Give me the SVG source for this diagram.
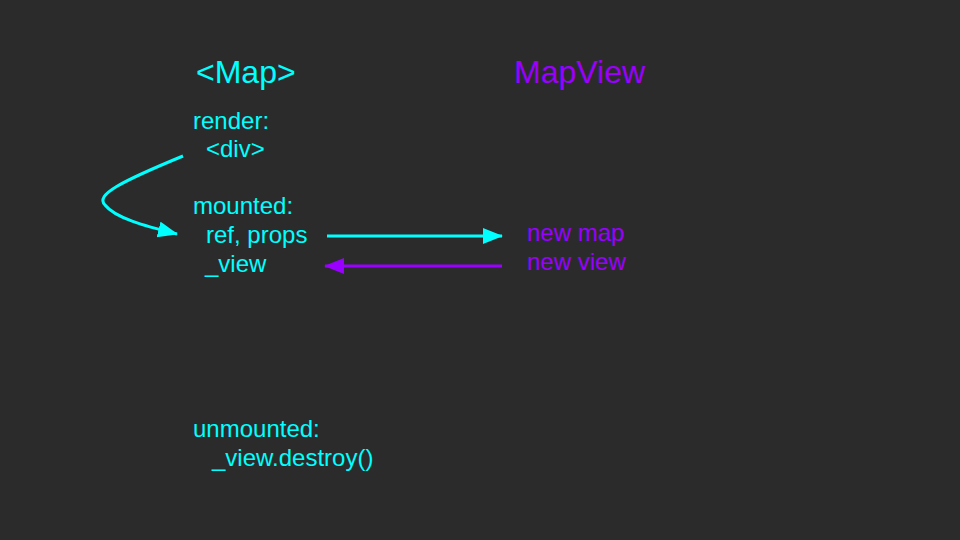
<svg xmlns="http://www.w3.org/2000/svg" width="960" height="540" viewBox="0 0 960 540">
  <style>
    text { font-family: "Liberation Sans", Arial, sans-serif; }
    .c { fill: #00ffff; }
    .p { fill: #9900ff; }
    .h { font-size: 32px; }
    .t { font-size: 24px; }
  </style>
  <defs>
    <marker id="ac" markerUnits="userSpaceOnUse" markerWidth="22" markerHeight="18" refX="19" refY="8" orient="auto">
      <path d="M0,0 L20,8 L0,16 Z" fill="#00ffff"/>
    </marker>
    <marker id="ap" markerUnits="userSpaceOnUse" markerWidth="22" markerHeight="18" refX="19" refY="8" orient="auto">
      <path d="M0,0 L20,8 L0,16 Z" fill="#9900ff"/>
    </marker>
  </defs>
  <rect width="960" height="540" fill="#2b2b2b"/>
  <g id="map">
    <text class="c h" x="196" y="83">&lt;Map&gt;</text>
    <text class="c t" x="193" y="129">render:</text>
    <text class="c t" x="206" y="157">&lt;div&gt;</text>
    <text class="c t" x="193" y="214">mounted:</text>
    <text class="c t" x="206" y="243">ref, props</text>
    <text class="c t" x="205" y="272">_view</text>
    <text class="c t" x="193" y="437">unmounted:</text>
    <text class="c t" x="212" y="466">_view.destroy()</text>
  </g>
  <g id="mapview">
    <text class="p h" x="514" y="83">MapView</text>
    <text class="p t" x="527" y="241">new map</text>
    <text class="p t" x="527" y="270">new view</text>
  </g>
  <g id="connectors" fill="none" stroke-width="3">
    <path d="M183,156 C120,182 95,195 105,205 C115,218 145,226 177,234" stroke="#00ffff" marker-end="url(#ac)"/>
    <line x1="327" y1="236" x2="502" y2="236" stroke="#00ffff" marker-end="url(#ac)"/>
    <line x1="502" y1="266" x2="325" y2="266" stroke="#9900ff" marker-end="url(#ap)"/>
  </g>
</svg>
